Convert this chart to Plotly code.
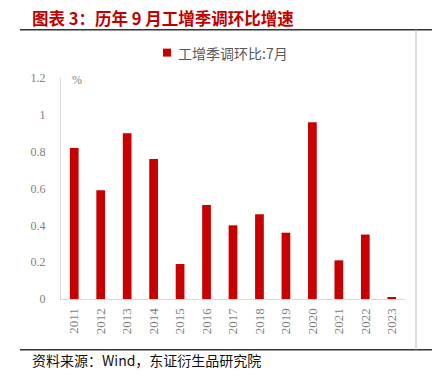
import plotly.graph_objects as go

years = ["2011", "2012", "2013", "2014", "2015", "2016", "2017",
         "2018", "2019", "2020", "2021", "2022", "2023"]
values = [0.82, 0.59, 0.90, 0.76, 0.19, 0.51, 0.40,
          0.46, 0.36, 0.96, 0.21, 0.35, 0.01]
series_name = "工增季调环比:7月"
y_ticks = [0, 0.2, 0.4, 0.6, 0.8, 1.0, 1.2]
y_tick_labels = ["0", "0.2", "0.4", "0.6", "0.8", "1", "1.2"]

W, H = 439, 382
L, R, T, B = 61, 405, 77.5, 299.5  # page pixel positions of the plot area


def px(x):
    return (x - L) / (R - L)


def py(y):
    return (B - y) / (B - T)


BAR_COLOR = "#c80000"

fig = go.Figure()
fig.add_trace(go.Bar(
    x=years, y=values, name=series_name,
    marker=dict(color=BAR_COLOR, line=dict(width=0)),
    showlegend=False, hoverinfo="skip",
))

serif = "Liberation Serif, Times New Roman, serif"
cjk = "Noto Sans CJK SC, sans-serif"

fig.update_layout(
    width=W, height=H,
    margin=dict(l=L, r=W - R, t=T, b=H - B, pad=0),
    paper_bgcolor="white", plot_bgcolor="white",
    bargap=0.67,
    hovermode=False,
    xaxis=dict(
        type="category", tickangle=-90, showgrid=False,
        showline=True, linecolor="#d9d9d9", linewidth=1,
        ticks="", ticklabelstandoff=3,
        tickfont=dict(family=serif, size=13, color="#7f7f7f"),
        zeroline=False,
    ),
    yaxis=dict(
        range=[0, 1.2], tickvals=y_ticks, ticktext=y_tick_labels,
        showgrid=False, showline=True, linecolor="#d9d9d9", linewidth=1,
        ticks="", ticklabelstandoff=12,
        tickfont=dict(family=serif, size=12, color="#7f7f7f"),
        zeroline=False,
    ),
    font=dict(family=serif),
)

annotations = [
    dict(text="图表 3：历年 9 月工增季调环比增速", x=px(30), y=py(17.5),
         xanchor="left", yanchor="middle", showarrow=False,
         font=dict(family=cjk, size=16.5, color="#c00000", weight="bold")),
    # legend label
    dict(text=series_name, x=px(176), y=py(52), xanchor="left", yanchor="middle",
         showarrow=False, font=dict(family=cjk, size=14, color="#595959")),
    dict(text="%", x=px(70), y=py(80), xanchor="left", yanchor="middle",
         showarrow=False, font=dict(family=serif, size=12, color="#7f7f7f")),
    dict(text="资料来源：Wind，东证衍生品研究院", x=px(30), y=py(361),
         xanchor="left", yanchor="middle", showarrow=False,
         font=dict(family=cjk, size=14, color="#111111")),
]
for a in annotations:
    a["xref"] = "paper"
    a["yref"] = "paper"
fig.update_layout(annotations=annotations)

shapes = [
    dict(type="line", x0=px(20), x1=px(432), y0=py(29), y1=py(29),
         line=dict(color="#333333", width=1.5)),
    dict(type="line", x0=px(20), x1=px(432), y0=py(350.5), y1=py(350.5),
         line=dict(color="#333333", width=1.5)),
    dict(type="line", x0=px(416), x1=px(416), y0=py(29), y1=py(350.5),
         line=dict(color="#bfbfbf", width=1)),
    # legend swatch
    dict(type="rect", x0=px(163), x1=px(171), y0=py(48), y1=py(56),
         fillcolor=BAR_COLOR, line=dict(width=0)),
]
for s in shapes:
    s["xref"] = "paper"
    s["yref"] = "paper"
fig.update_layout(shapes=shapes)

fig.write_html(
    "out.html",
    config={"displayModeBar": False},
    post_script="document.body.style.margin='0';document.body.style.padding='0';",
)
